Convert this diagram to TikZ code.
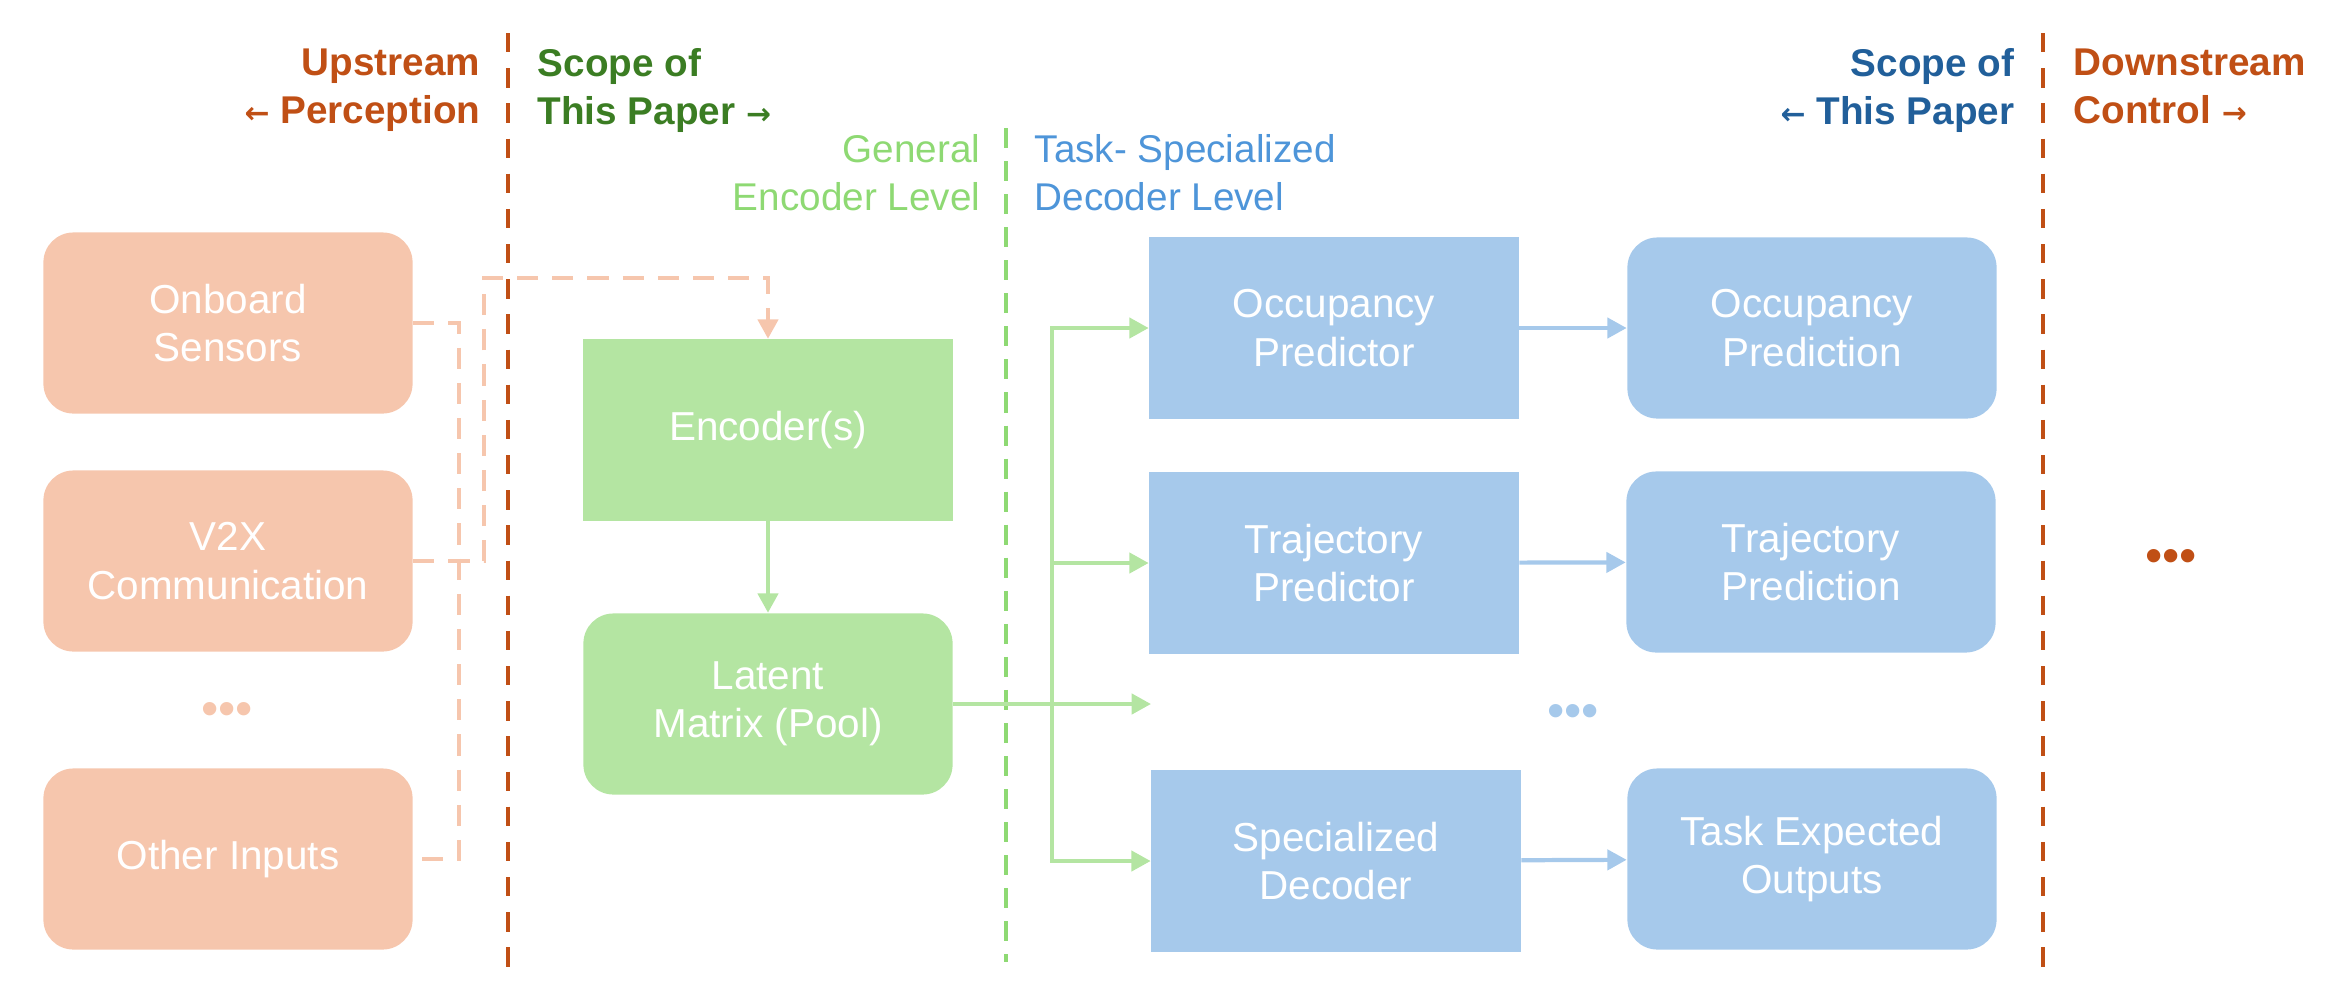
\documentclass[tikz,border=0pt]{standalone}
\usepackage{fontspec}
\setmainfont{Liberation Sans}
\newfontfamily\arrowfont{DejaVu Sans}
\usepackage{tikz}
\usetikzlibrary{arrows.meta}

\definecolor{inputfill}{HTML}{F6C6AD}
\definecolor{encfill}{HTML}{B4E5A2}
\definecolor{decfill}{HTML}{A6C9EB}
\definecolor{rustred}{HTML}{C04F15}
\definecolor{scopegreen}{HTML}{3B7D23}
\definecolor{scopeblue}{HTML}{215F9A}
\definecolor{levelgreen}{HTML}{8ED973}
\definecolor{levelblue}{HTML}{4E95D9}

\newcommand{\arrowL}{{\arrowfont\fontsize{8.5}{8.5}\selectfont ←}}
\newcommand{\arrowR}{{\arrowfont\fontsize{8.5}{8.5}\selectfont →}}
\newcommand{\dotrow}{•••}

\begin{document}
\begin{tikzpicture}[
    x=0.01cm, y=-0.01cm,
    every node/.style={inner sep=0pt},
    block/.style={minimum width=3.69cm, minimum height=1.81cm, text=white, align=center, font=\fontsize{11.5}{13.7}\selectfont},
    input node/.style={block, fill=inputfill, rounded corners=0.3cm},
    encoder node/.style={block, fill=encfill},
    latent node/.style={block, fill=encfill, rounded corners=0.3cm},
    decoder node/.style={block, fill=decfill},
    output node/.style={block, fill=decfill, rounded corners=0.3cm},
    heading/.style={font=\fontsize{11}{13.7}\selectfont\bfseries},
    level/.style={font=\fontsize{11}{13.7}\selectfont},
    dots/.style={font=\fontsize{14}{14}\selectfont},
    divider/.style={line width=1.2pt, dash pattern=on 5.5pt off 4.5pt},
    feed/.style={draw=inputfill, line width=1.2pt, dash pattern=on 6pt off 4pt},
    greenline/.style={draw=encfill, line width=1.2pt},
    blueline/.style={draw=decfill, line width=1.2pt},
    tip/.style={-{Triangle[length=5.5pt, width=5.7pt]}}
    ]

    \useasboundingbox (0,0) rectangle (2344,1002);

    % Headings
    \node[heading, text=rustred, align=right, anchor=north east] (upstream) at (481,48) {Upstream\\\arrowL\ Perception};
    \node[heading, text=scopegreen, align=left, anchor=north west] (scopeL) at (537,48) {Scope of\\This Paper \arrowR};
    \node[heading, text=scopeblue, align=right, anchor=north east] (scopeR) at (2015,48) {Scope of\\\arrowL\ This Paper};
    \node[heading, text=rustred, align=left, anchor=north west] (downstream) at (2073,48) {Downstream\\Control \arrowR};
    \node[level, text=levelgreen, align=right, anchor=north east] (enclevel) at (981,134) {General\\Encoder Level};
    \node[level, text=levelblue, align=left, anchor=north west] (declevel) at (1034,134) {Task- Specialized\\Decoder Level};

    % Dividers
    \draw[divider, draw=rustred] (508,33) -- (508,973);
    \draw[divider, draw=rustred] (2043,33) -- (2043,973);
    \draw[divider, draw=levelgreen, dash pattern=on 5.7pt off 3.7pt] (1006,128) -- (1006,962);

    % Nodes
    \node[input node] (onboard) at (228,323) {Onboard\\Sensors};
    \node[input node] (v2x) at (228,561) {V2X\\Communication};
    \node[dots, text=inputfill] (moreinputs) at (227,714) {\dotrow};
    \node[input node] (other) at (228,859) {Other Inputs};

    \node[encoder node] (encoder) at (768,430) {Encoder(s)};
    \node[latent node] (latent) at (768,704) {Latent\\Matrix (Pool)};

    \node[decoder node] (occpred) at (1334,328) {Occupancy\\Predictor};
    \node[decoder node] (trajpred) at (1334,563) {Trajectory\\Predictor};
    \node[dots, text=decfill] (moretasks) at (1573,716) {\dotrow};
    \node[decoder node] (specdec) at (1336,861) {Specialized\\Decoder};

    \node[output node] (occout) at (1812,328) {Occupancy\\Prediction};
    \node[output node] (trajout) at (1811,562) {Trajectory\\Prediction};
    \node[output node] (taskout) at (1812,859) {Task Expected\\Outputs};

    \node[dots, text=rustred] (control) at (2171,561) {\dotrow};

    % Connections
    \coordinate (joinL) at (459,561);
    \coordinate (joinR) at (484,561);
    \coordinate (bend) at (484,278);
    \draw[feed] (onboard.east) -| (joinL) |- (other.east);
    \draw[feed, tip] (v2x.east) -- (joinR) -- (bend) -| (encoder.north);

    \draw[greenline, tip] (encoder) -- (latent);

    \coordinate (split) at (1052,704);
    \coordinate (more) at (1151,704);
    \draw[greenline, tip] (latent.east) -- (more);
    \foreach \t in {occpred, trajpred, specdec}
        \draw[greenline, tip] (split) |- (\t.west);

    \foreach \a/\b in {occpred/occout, trajpred/trajout, specdec/taskout}
        \draw[blueline, tip] (\a) -- (\b);

\end{tikzpicture}
\end{document}
